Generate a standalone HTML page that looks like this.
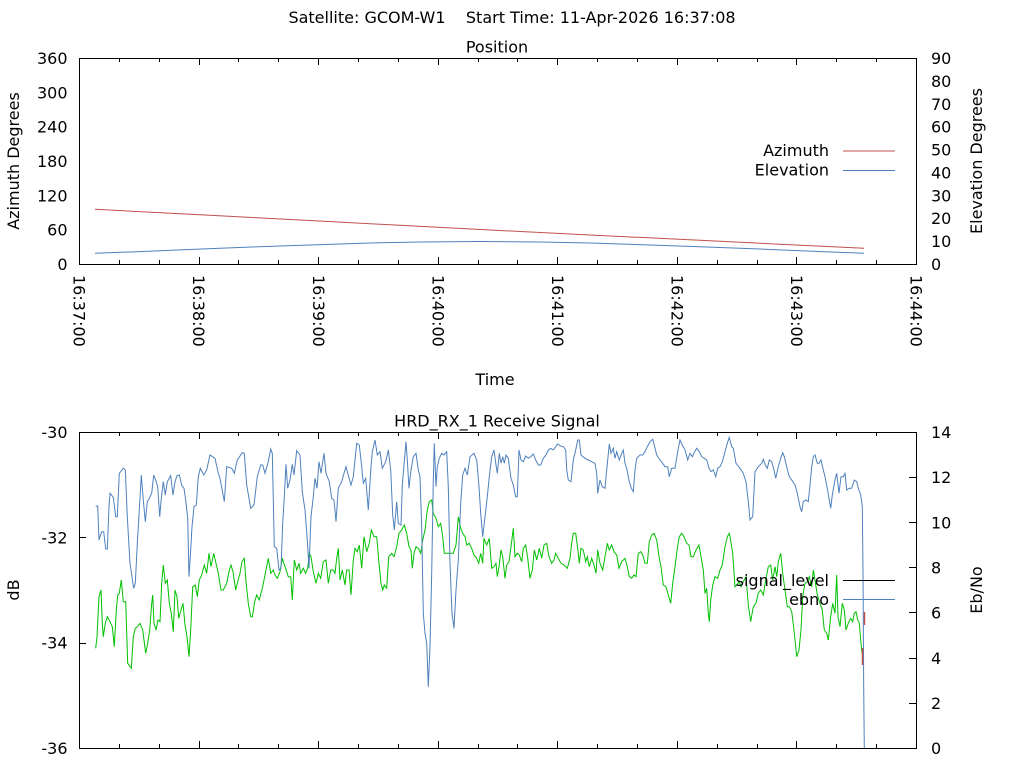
<!DOCTYPE html>
<html><head><meta charset="utf-8"><style>
html,body{margin:0;padding:0;background:#fff;}
svg{display:block;}
text{font-family:"DejaVu Sans","Liberation Sans",sans-serif;font-size:16px;fill:#000;}
</style></head><body>
<svg width="1024" height="768" viewBox="0 0 1024 768" xmlns="http://www.w3.org/2000/svg">
<rect x="0" y="0" width="1024" height="768" fill="#fff"/>
<text x="512" y="23" text-anchor="middle" xml:space="preserve">Satellite: GCOM-W1    Start Time: 11-Apr-2026 16:37:08</text>
<text x="497" y="52.5" text-anchor="middle">Position</text>

<g stroke="#000" stroke-width="1" fill="none" shape-rendering="crispEdges">
<rect x="79.5" y="58.5" width="837" height="206"/>
<rect x="79.5" y="432.5" width="837" height="316"/>
<path d="M199.5,264V257M318.5,264V257M438.5,264V257M557.5,264V257M677.5,264V257M796.5,264V257
M119.5,264V260M159.5,264V260M238.5,264V260M278.5,264V260M358.5,264V260M398.5,264V260M478.5,264V260M517.5,264V260M597.5,264V260M637.5,264V260M717.5,264V260M757.5,264V260M836.5,264V260M876.5,264V260
M199.5,58V65M318.5,58V65M438.5,58V65M557.5,58V65M677.5,58V65M796.5,58V65
M119.5,58V62M159.5,58V62M238.5,58V62M278.5,58V62M358.5,58V62M398.5,58V62M478.5,58V62M517.5,58V62M597.5,58V62M637.5,58V62M717.5,58V62M757.5,58V62M836.5,58V62M876.5,58V62
M199.5,748V741M318.5,748V741M438.5,748V741M557.5,748V741M677.5,748V741M796.5,748V741
M119.5,748V744M159.5,748V744M238.5,748V744M278.5,748V744M358.5,748V744M398.5,748V744M478.5,748V744M517.5,748V744M597.5,748V744M637.5,748V744M717.5,748V744M757.5,748V744M836.5,748V744M876.5,748V744
M199.5,432V439M318.5,432V439M438.5,432V439M557.5,432V439M677.5,432V439M796.5,432V439
M119.5,432V436M159.5,432V436M238.5,432V436M278.5,432V436M358.5,432V436M398.5,432V436M478.5,432V436M517.5,432V436M597.5,432V436M637.5,432V436M717.5,432V436M757.5,432V436M836.5,432V436M876.5,432V436
M79,537.5H86M79,643.5H86
M916,703.5H909M916,658.5H909M916,612.5H909M916,567.5H909M916,522.5H909M916,477.5H909"/>
</g>

<!-- top left labels -->
<g text-anchor="end">
<text x="67.5" y="64">360</text>
<text x="67.5" y="98.3">300</text>
<text x="67.5" y="132.7">240</text>
<text x="67.5" y="167">180</text>
<text x="67.5" y="201.3">120</text>
<text x="67.5" y="235.7">60</text>
<text x="67.5" y="270">0</text>
</g>
<g text-anchor="start">
<text x="931" y="64">90</text>
<text x="931" y="86.9">80</text>
<text x="931" y="109.8">70</text>
<text x="931" y="132.7">60</text>
<text x="931" y="155.6">50</text>
<text x="931" y="178.4">40</text>
<text x="931" y="201.3">30</text>
<text x="931" y="224.2">20</text>
<text x="931" y="247.1">10</text>
<text x="931" y="270">0</text>
</g>
<text transform="translate(19,161) rotate(-90)" text-anchor="middle">Azimuth Degrees</text>
<text transform="translate(982,161) rotate(-90)" text-anchor="middle">Elevation Degrees</text>

<!-- x tick labels -->
<g>
<text transform="translate(73.5,275) rotate(90)">16:37:00</text>
<text transform="translate(193.2,275) rotate(90)">16:38:00</text>
<text transform="translate(312.8,275) rotate(90)">16:39:00</text>
<text transform="translate(432.4,275) rotate(90)">16:40:00</text>
<text transform="translate(551.9,275) rotate(90)">16:41:00</text>
<text transform="translate(671.5,275) rotate(90)">16:42:00</text>
<text transform="translate(791.1,275) rotate(90)">16:43:00</text>
<text transform="translate(910.6,275) rotate(90)">16:44:00</text>
</g>
<text x="495" y="385" text-anchor="middle">Time</text>

<!-- top series -->
<polyline fill="none" stroke="#c0504d" stroke-width="1" points="95,209.3 200,214.8 300,220 400,225.3 500,230.5 600,235.5 700,240.2 780,244.3 864,248.3"/>
<polyline fill="none" stroke="#4f81bd" stroke-width="1" points="95,253.3 140,251.6 177,250 220,248.2 259,246.7 310,245 370,243 420,242 480,241.5 540,242 590,243 650,245 700,246.7 740,248.2 782,250 825,251.7 864,253.3"/>
<text x="829" y="156" text-anchor="end">Azimuth</text>
<line x1="843" y1="151" x2="895" y2="151" stroke="#c0504d" stroke-width="1"/>
<text x="829" y="175.5" text-anchor="end">Elevation</text>
<line x1="843" y1="170.5" x2="895" y2="170.5" stroke="#4f81bd" stroke-width="1"/>

<!-- bottom -->
<text x="497" y="426.5" text-anchor="middle">HRD_RX_1 Receive Signal</text>
<g text-anchor="end">
<text x="67.5" y="438">-30</text>
<text x="67.5" y="543.4">-32</text>
<text x="67.5" y="648.7">-34</text>
<text x="67.5" y="754">-36</text>
</g>
<g text-anchor="start">
<text x="931" y="438">14</text>
<text x="931" y="483.2">12</text>
<text x="931" y="528.3">10</text>
<text x="931" y="573.5">8</text>
<text x="931" y="618.6">6</text>
<text x="931" y="663.8">4</text>
<text x="931" y="708.9">2</text>
<text x="931" y="754">0</text>
</g>
<text transform="translate(19,590) rotate(-90)" text-anchor="middle">dB</text>
<text transform="translate(982,590) rotate(-90)" text-anchor="middle">Eb/No</text>

<polyline fill="none" stroke="#00c000" stroke-width="1" points="95.7,648.3 97,636.7 99,596.7 101,590 102.3,623.3 103.3,636.7 105.3,623.3 107.3,616.7 110,621.7 112.3,626.7 114.3,646.7 116.3,610 117.7,595 119.3,593.3 121.3,580 123.3,601.7 125.7,601.7 127.7,663.3 131.3,668.3 133.3,636.7 135.3,628.3 137.3,626.7 140,623.3 142.7,630 145.7,653.3 147.7,643.3 149.7,630 151.7,603.3 152.7,595 154,623.3 156,630 158,620 160,621.7 161.7,583.3 163.3,565 165.3,583.3 167.3,580 169.3,603.3 171.3,613.3 173.3,631.7 175,590 177,596.7 178.7,618.3 181,610 183,603.3 185,625 187,636.7 189,656.7 190.7,630 192.7,586.7 195.3,585 197.3,596.7 199.3,580 201.7,575 204.3,565 206.7,573.3 209,553.3 211,566.7 213.7,553.3 216,563.3 218.3,573.3 221,590 223.3,590 226.7,583.3 229.3,570 231,565 233,571.7 235.7,590 237.3,583.3 240,573.3 242,561.7 244.3,558.3 246,581.7 248.3,603.3 250.7,616.7 252.3,616.7 254.7,601.7 256.7,595 259.3,600 262.7,586.7 265,575 268.3,558.3 270.7,573.3 273.3,570 275,575 277.3,578.3 280,571.7 282.3,558.3 285,566.7 288.3,576.7 290.7,576.7 292.3,600 294.3,560 296.7,570 299,563.3 300.7,573.3 303.3,568.3 305.7,573.3 307.7,568.3 309.3,553.3 311,556.7 313.3,571.7 316,583.3 318.3,573.3 320.7,578.3 323.3,561.7 326,560 328.3,583.3 330.7,570 333.3,570 335,573.3 336.7,558.3 338.3,548.3 340,580 342.3,570 345,585 346.7,570 349,570 351,595 353.3,560 355,548.3 357.3,551.7 359.3,545 361.7,568.3 364,536.7 366.7,551.7 369.3,543.3 371.3,530 374,536.7 376.7,536.7 379,563.3 381,583.3 382.7,590 384.3,585 386.7,588.3 388.7,556.7 391.7,553.3 394,556.7 396.7,546.7 399,533.3 401.7,530 404.3,525 406.7,533.3 409,546.7 411,550 412.3,568.3 414,553.3 416,546.7 418.3,548.3 420.7,553.3 422.7,540 425,530 427.3,510 429.3,501.7 431.7,500 433.3,513.3 436,518.3 438.3,526.7 440.7,523.3 442.7,536.7 444.3,553.3 446.7,553.3 450,553.3 453.3,553.3 456,545 458.3,516.7 460.7,528.3 462.7,533.3 465,536.7 466.7,545 469,543.3 471.7,548.3 474,555 476.7,558.3 478.7,563.3 480.7,553.3 482.7,563.3 484,538.3 486.7,545 489.3,538.3 491.7,568.3 494,566.7 496,563.3 497.3,576.7 499,566.7 501,550 502.7,556.7 505,578.3 506.7,565 509,561.7 511,546.7 513.3,528.3 515,556.7 517.3,553.3 519.3,555 521.7,561.7 523.3,548.3 525.7,545 527.7,558.3 530,578.3 532.3,570 534.3,550 536.7,560 539.3,548.3 541.7,558.3 544,545 546.7,543.3 549,556.7 551.7,563.3 554,560 555.7,553.3 558.3,558.3 561,563.3 564,565 567.3,568.3 570,558.3 571.7,543.3 573.3,533.3 575.7,533.3 577.7,548.3 579.3,563.3 581,548.3 583.3,550 585.7,561.7 587.3,556.7 589.3,566.7 591.7,558.3 594,565 596,573.3 597.7,550 600,563.3 602.7,570 605,556.7 607.3,543.3 609.3,550 611.7,545 614,551.7 616.7,555 619,568.3 621.7,561.7 625,558.3 627.3,566.7 629.3,576.7 631.7,578.3 634,575 636,576.7 638.3,553.3 640.7,551.7 642.7,555 645,563.3 647.3,563.3 649.3,541.7 651.7,535 654,533.3 656.7,540 659,556.7 661,566.7 663.3,585 666,586.7 668.3,595 670.7,603.3 672.7,583.3 675,566.7 677.3,548.3 679.3,536.7 681.7,533.3 684,536.7 686.7,543.3 689,545 691,556.7 693.3,556.7 696,550 699,545 701,556.7 703.3,570 705,593.3 706.7,588.3 708.3,613.3 709.3,621.7 710.7,600 712.7,585 715,576.7 717.7,578.3 720,570 722.3,565 725,546.7 727.3,536.7 729.3,533.3 730,536.7 732.7,553.3 735,586.7 736.7,585 739,581.7 741,586.7 743.3,581.7 746,576.7 748.3,605 750.7,621.7 753.3,606.7 756,603.3 758.3,593.3 760.7,590 763.3,595 765.7,580 768.3,566.7 770.7,565 772.7,580 775,566.7 776.7,576.7 778.3,561.7 780.7,553.3 782.7,573.3 785,590 787.3,606.7 789.3,606.7 791.7,611.7 794,630 796.7,656.7 799,650 801,630 802.7,596.7 805,583.3 807.3,581.7 809.3,576.7 811.7,586.7 813.3,570 815,580 817.3,595 820,603.3 822.3,610 824.3,630 826.7,633.3 828.3,640 830.7,616.7 832.7,603.3 835,613.3 836.7,575 838,616.7 840,626.7 842.3,603.3 844.3,610 846,630 848.3,623.3 850.7,618.3 852.7,621.7 854.3,613.3 856,611.7 857.7,620 859.3,623.3 861,643.3 862,653.3"/>

<polyline fill="none" stroke="#4f81bd" stroke-width="1" points="95.7,506.3 97.7,506 99,540 100,536.7 101.7,531.7 103.7,531.7 105.7,549 107.3,549 109,506.7 110,493.3 113.3,497.3 115.7,516.7 117.3,516.7 119.3,473.3 123.3,468.3 125.3,470 127.3,516.7 130,563.3 133.7,588.3 135.3,583.3 137.3,543.3 139.3,510 141.3,475 143.3,500 145.3,521.7 147.3,501.7 149.3,498.3 151.7,493.3 153.7,475 155.7,480 157.7,486.7 159.7,516.7 161.3,498.3 163.3,481.7 165.3,495 167.3,481.7 170.7,475.7 173,495 175,481.7 177,475.7 179.3,475 181.7,485 184,488.3 185.7,500 187.7,518.3 189,576.7 190.3,556.7 192,526.7 194,506.7 196.3,505 198.3,476.7 200.3,468.3 203.7,475 206.7,470 210,455 215,458.3 218.3,473.3 220,478.3 224.3,501.7 226.7,466.7 231.7,468.3 234.3,473.3 237.3,460 242.3,452.7 244.3,453.3 246.7,485 250.7,508.3 254,505 257.3,476.7 260.7,465 262.7,465 265,473.3 268.3,461.7 270.7,449 272.3,453.3 274.3,546.7 276.7,548.3 279,570 281,568.3 282.7,523.3 284.3,496.7 286,464.3 287.7,488.3 290,480 292.3,464.3 294,475 296.7,450.7 300,455 302.3,491.7 305,510 307.3,540 309,568.3 311,516.7 313.3,496.7 315,478.3 317,488.3 319,461.7 321,473.3 324,453.3 326,473.3 329.3,481.7 331.7,498.3 334,500 336,521.7 338.3,488.3 341.7,481.7 344,473.3 346,466.7 348.7,476.7 351,485 353.3,476.7 356.7,443.3 359.3,445 361.7,466.7 363.3,483.3 365.7,478.3 368.3,510 371,466.7 372.3,451.7 375,440 377.3,455 380,451.7 382.3,468.3 385.7,461.7 388.3,450 390.7,470 392.7,515 394.3,530 396.7,501.7 398.3,523.3 401,525 402.3,485 404.3,461.7 406,441.7 407.3,460 409,488.3 411,470 413.3,456.7 416,453.3 418.3,470 420,476.7 421.7,526.7 423.3,613.3 425,633.3 426.7,643.3 428.3,686.7 430,646.7 431.7,573.3 433.3,480 434.3,443.3 436,486.7 437.3,466.7 439.3,458.3 441.7,453.3 444,455 446.7,451.7 448.3,486.7 450,563.3 452,613.3 454,628.3 456,590 458.3,560 460.7,503.3 462.7,475 465,468.3 467.3,475 470,456.7 474,453.3 476.7,460 479,486.7 480.7,513.3 482.7,536.7 485,516.7 487.3,496.7 489.3,476.7 491.7,456.7 494,450 496,465 497.3,473.3 499.3,453.3 501,463.3 502.7,456.7 504.3,463.3 506,455 508.3,458.3 511,478.3 513.3,485 515.7,496.7 517.3,496.7 519,450 521,460 523.3,461.7 525.7,456 528.3,458.3 530.7,456.7 533.3,454 535.7,460 538.3,465 540.7,465 543.3,458.3 546,455 548.3,450 550.7,448.3 553.3,450 555.7,446.7 557.7,444 560.7,446 563.3,446.7 565.7,450 566.7,470 568.3,480 571,481.7 573.3,460 575.7,450 577.7,440 579.3,440 581,455 585,458.3 588.3,460 591.7,461.7 595,463.3 596.7,473.3 597.7,493.3 600,480 602.3,486.7 605,488.3 606.7,470 609.3,444 611,453.3 613.3,448.3 615,458.3 616.7,451.7 619.3,460 621.7,453.3 623.3,450 625,463.3 626.7,468.3 629.3,481.7 631.3,488.3 633.3,491.7 635,470 636.7,458.3 640,455 642.7,455 645,451.7 647.3,446.7 650,441.7 652.7,439.3 654.3,445 656.7,455 660,460 662.7,463.3 665,466.7 667.7,466.7 669.3,476.7 671.7,468.3 675,468.3 677.7,451.7 680,440 682.3,445 685,450 687.7,460 690,453.3 692.3,456.7 694.7,451.7 696.7,448.3 699.3,451.7 701.7,456.7 704.3,458.3 706.7,460 709,468.3 711,471.7 713.3,470 715.7,476.7 717.7,468.3 720,466.7 722.3,461.7 725,451.7 727.3,443.3 729.3,437.3 731.7,446.7 733.3,448.3 736,463.3 740,468.3 743.3,473.3 746,481.7 748.3,501.7 750,520 752.7,516.7 755,471.7 758.3,466.7 761.7,463.3 763.3,459.3 765.3,465 767.3,468.3 769.3,460 771.7,461.7 774,470 775.7,478.3 778.3,466.7 780.7,458.3 782.7,452.7 784.3,456.7 786.7,466.7 789.3,476.7 791.7,480 795,485 797.3,493.3 800,506.7 801.7,511.7 803.3,501.7 806,500 808.3,501.7 810,485 811.7,466.7 813.3,456.7 815,455 817.3,463.3 819,463.3 821,460 823.3,470 825,476.7 827.3,488.3 829,498.3 830.7,508.3 832.3,495 835,480 836.7,473.3 839,493.3 841,476.7 843.3,476.7 845,473.3 846.7,490 849.3,488.3 851.7,488.3 854.3,480 856.7,481.7 858.3,488.3 860.7,495 862.3,506.7 863,570 863.7,688.3 864.3,748"/>

<line x1="862.5" y1="648" x2="862.5" y2="665" stroke="#c0504d" stroke-width="1.5"/>
<line x1="864.5" y1="612" x2="864.5" y2="625" stroke="#c0504d" stroke-width="1.5"/>

<text x="829" y="586" text-anchor="end">signal_level</text>
<line x1="843" y1="580.5" x2="895" y2="580.5" stroke="#000" stroke-width="1"/>
<text x="829" y="605" text-anchor="end">ebno</text>
<line x1="843" y1="599.5" x2="895" y2="599.5" stroke="#4f81bd" stroke-width="1"/>
</svg>
</body></html>
